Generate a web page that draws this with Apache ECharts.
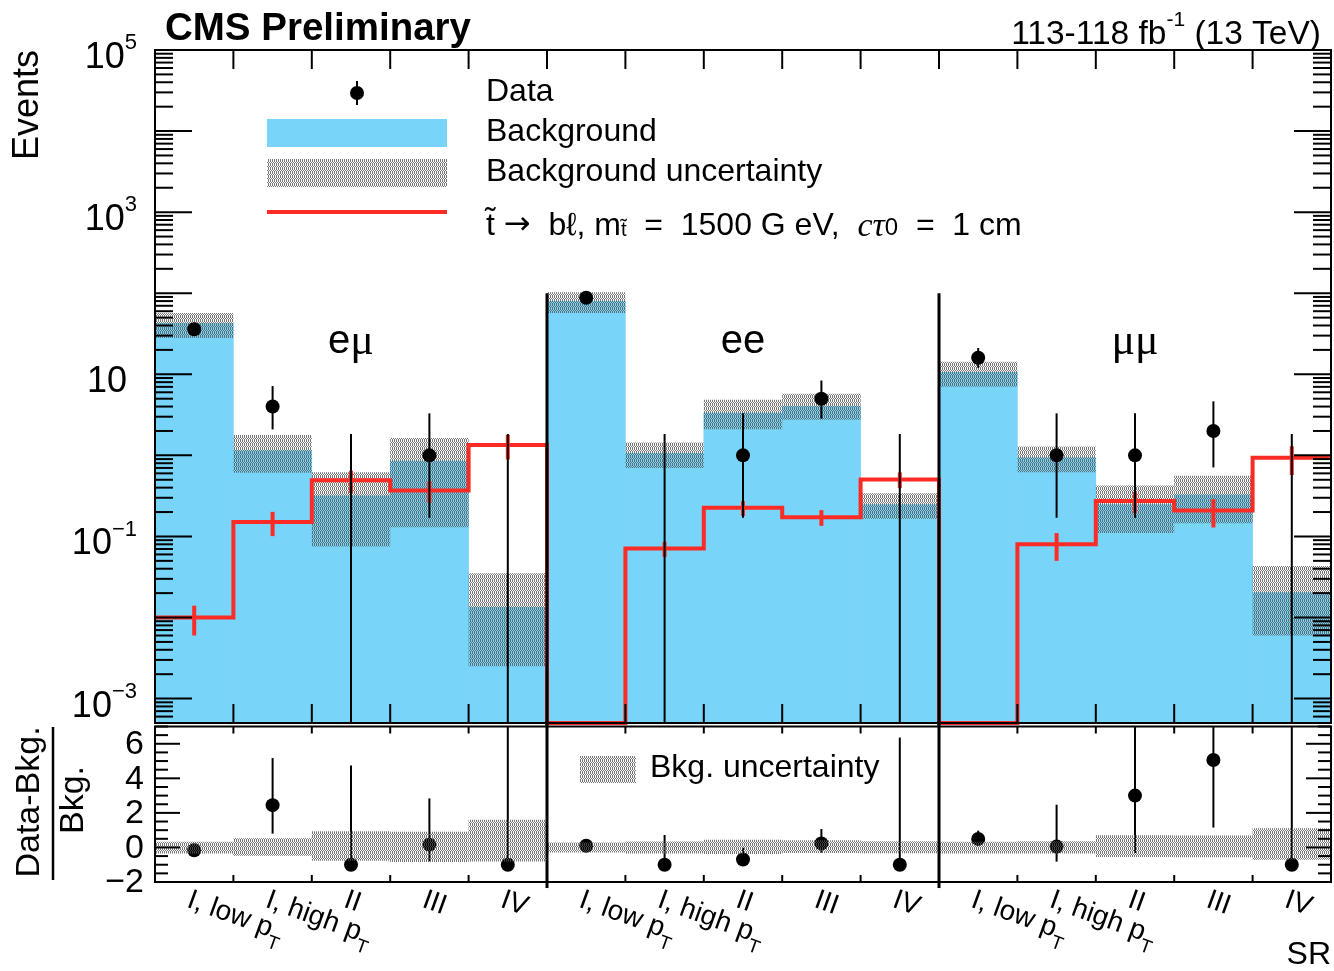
<!DOCTYPE html>
<html><head><meta charset="utf-8">
<script src="https://cdn.jsdelivr.net/npm/echarts@6/dist/echarts.min.js"></script>
<style>html,body{margin:0;padding:0;background:#fff}#c{width:1334px;height:971px}</style>
</head><body><div id="c"></div>
<script>
// ---------------- data ----------------
const channels = ['eμ', 'ee', 'μμ'];
const srLabels = [['I, low p', 'T'], ['I, high p', 'T'], ['II', ''], ['III', ''], ['IV', '']];
const dataCounts  = [36, 4, 0, 1, 0,   88, 0, 1, 5, 0,   16, 1, 1, 2, 0];
const dataErrLow  = [5.96, 1.91, 0, 0.83, 0,   9.36, 0, 0.83, 2.16, 0,   3.98, 0.83, 0.83, 1.29, 0];
const dataErrHigh = [7.05, 3.16, 1.84, 2.30, 1.84,   10.4, 1.84, 2.30, 3.38, 1.84,   5.10, 2.30, 2.30, 2.64, 1.84];
const bkg       = [43, 1.16, 0.32, 0.86, 0.0135,   80, 1.07, 3.35, 4.05, 0.25,   10.7, 0.95, 0.25, 0.33, 0.0205];
const bkgUncUp  = [14, 0.62, 0.30, 0.78, 0.0216,   23, 0.37, 1.5, 1.7, 0.09,   3.6, 0.34, 0.175, 0.23, 0.0228];
const bkgUncDown= [15, 0.55, 0.245, 0.73, 0.011,   23, 0.37, 1.25, 1.3, 0.085,   3.7, 0.33, 0.14, 0.185, 0.0145];
const signal    = [0.010, 0.151, 0.495, 0.37, 1.34,   0, 0.071, 0.226, 0.173, 0.505,   0, 0.080, 0.273, 0.209, 0.933];
const signalErr = [0.004, 0.05, 0.15, 0.11, 0.45,   0, 0.015, 0.047, 0.038, 0.11,   0, 0.03, 0.08, 0.08, 0.36];
const channelEdges = [5, 10];
const mainTickValues = [1e-3, 1e-1, 10, 1e3, 1e5];
const mainTickLabels = [['10', '−3'], ['10', '−1'], ['10', ''], ['10', '3'], ['10', '5']];
const ratioTickValues = [-2, 0, 2, 4, 6];
const ratioTickLabels = ['−2', '0', '2', '4', '6'];

// ---------------- styling ----------------
const N = 15, YMIN = 5e-4, YMAX = 1e5, RMIN = -2, RMAX = 7;
const BLUE = '#78d4f8', RED = '#fd2b25';
const F = '"Liberation Sans", Arial, Helvetica, sans-serif';
const FS = '"Liberation Serif", "Times New Roman", serif';

const patCanvas = document.createElement('canvas');
patCanvas.width = 4; patCanvas.height = 4;
const pg = patCanvas.getContext('2d');
pg.fillStyle = 'rgba(85,85,85,0.8)';
[[0,0],[2,0],[0,1],[2,1],[1,2],[3,2],[0,3],[2,3]].forEach(([x, y]) => pg.fillRect(x, y, 1, 1));
const HATCH = { image: patCanvas, repeat: 'repeat' };

const cm = v => Math.min(YMAX, Math.max(YMIN, v));
const cr = v => Math.min(RMAX, Math.max(RMIN, v));
function ln(x1, y1, x2, y2, w, c) {
  return { type: 'line', shape: { x1, y1, x2, y2 }, style: { stroke: c || '#000', lineWidth: w || 2 } };
}
const M = { type: 'custom', coordinateSystem: 'cartesian2d', xAxisIndex: 0, yAxisIndex: 0, silent: true };
const R = { type: 'custom', coordinateSystem: 'cartesian2d', xAxisIndex: 1, yAxisIndex: 1, silent: true };
const binMain = bkg.map((v, i) => [i + 0.5, 1]);
const binRat = bkg.map((v, i) => [i + 0.5, 0]);

const series = [
  // background histogram
  Object.assign({}, M, { z: 2, data: binMain, renderItem: (p, api) => {
    const i = p.dataIndex;
    const a = api.coord([i, YMIN]), b = api.coord([i + 1, cm(bkg[i])]);
    return { type: 'rect', shape: { x: a[0] - 0.3, y: b[1], width: b[0] - a[0] + 0.6, height: a[1] - b[1] }, style: { fill: BLUE } };
  }}),
  // background uncertainty band
  Object.assign({}, M, { z: 3, data: binMain, renderItem: (p, api) => {
    const i = p.dataIndex;
    const a = api.coord([i, cm(bkg[i] + bkgUncUp[i])]), b = api.coord([i + 1, cm(bkg[i] - bkgUncDown[i])]);
    return { type: 'rect', shape: { x: a[0], y: a[1], width: b[0] - a[0], height: b[1] - a[1] }, style: { fill: HATCH } };
  }}),
  // signal step line
  Object.assign({}, M, { z: 4, data: [[0, 1]], renderItem: (p, api) => {
    const pts = [];
    signal.forEach((s, i) => {
      const y = api.coord([i, cm(s)])[1];
      pts.push([api.coord([i, 1])[0], y], [api.coord([i + 1, 1])[0], y]);
    });
    return { type: 'polyline', shape: { points: pts }, style: { stroke: RED, lineWidth: 4, fill: null, lineJoin: 'miter' } };
  }}),
  // signal error bars
  Object.assign({}, M, { z: 5, data: binMain, renderItem: (p, api) => {
    const i = p.dataIndex;
    if (!(signalErr[i] > 0)) return null;
    const x = api.coord([i + 0.5, 1])[0];
    const y1 = api.coord([0, cm(signal[i] - signalErr[i])])[1], y2 = api.coord([0, cm(signal[i] + signalErr[i])])[1];
    return ln(x, y1, x, y2, 4, RED);
  }}),
  // data points (main)
  Object.assign({}, M, { z: 6, data: binMain, renderItem: (p, api) => {
    const i = p.dataIndex, n = dataCounts[i];
    const x = api.coord([i + 0.5, 1])[0];
    const yl = api.coord([0, cm(n - dataErrLow[i])])[1], yh = api.coord([0, cm(n + dataErrHigh[i])])[1];
    const ch = [ln(x, yl, x, yh, 2)];
    if (n > 0) ch.push({ type: 'circle', shape: { cx: x, cy: api.coord([0, n])[1], r: 7 }, style: { fill: '#000' } });
    return { type: 'group', children: ch };
  }}),
  // channel labels
  Object.assign({}, M, { z: 7, data: channels.map((c, k) => [2.5 + 5 * k, 25]), renderItem: (p, api) => {
    const c = channels[p.dataIndex];
    const pt = api.coord([2.5 + 5 * p.dataIndex, 25]);
    const txt = c.split('').map(ch => ch === 'μ' ? '{g|μ}' : '{s|' + ch + '}').join('');
    return { type: 'text', x: pt[0], y: pt[1], style: { text: txt, align: 'center', verticalAlign: 'middle',
      rich: { s: { fontSize: 40, fontFamily: F, fill: '#000' }, g: { fontSize: 44, fontFamily: FS, fill: '#000' } } } };
  }}),
  // channel separators (main)
  Object.assign({}, M, { z: 8, data: channelEdges.map(e => [e, 1]), renderItem: (p, api) => {
    const e = channelEdges[p.dataIndex];
    const a = api.coord([e, 100]), b = api.coord([e, YMIN]);
    return ln(a[0], a[1], b[0], b[1] + 2, 3);
  }}),
  // main frame + ticks
  Object.assign({}, M, { z: 9, data: [[0, 1]], renderItem: (p, api) => {
    const tl = api.coord([0, YMAX]), br = api.coord([N, YMIN]);
    const x0 = tl[0], y0 = tl[1], x1 = br[0], y1 = br[1];
    const ch = [{ type: 'rect', shape: { x: x0, y: y0, width: x1 - x0, height: y1 - y0 }, style: { fill: null, stroke: '#000', lineWidth: 2 } }];
    for (let e = 1; e < N; e++) {
      const x = api.coord([e, 1])[0];
      ch.push(ln(x, y0, x, y0 + 19, 2), ln(x, y1, x, y1 - 19, 2));
    }
    for (let k = -4; k <= 4; k++) for (let m = 1; m <= 9; m++) {
      const v = m * Math.pow(10, k);
      if (v < YMIN || v > YMAX) continue;
      const y = api.coord([0, v])[1], L = m === 1 ? 37 : 18;
      ch.push(ln(x0, y, x0 + L, y, 2), ln(x1, y, x1 - L, y, 2));
    }
    return { type: 'group', children: ch };
  }}),
  // main y tick labels
  Object.assign({}, M, { z: 9, data: mainTickValues.map(v => [0, v]), renderItem: (p, api) => {
    const i = p.dataIndex, pt = api.coord([0, mainTickValues[i]]);
    const [b, e] = mainTickLabels[i];
    return { type: 'text', x: e ? pt[0] - 18 : pt[0] - 28, y: pt[1] + 4, style: {
      text: e ? '{b|' + b + '}{s|' + e + '}' : '{b|' + b + '}', align: 'right', verticalAlign: 'middle',
      rich: { b: { fontSize: 36, fontFamily: F, lineHeight: 44, verticalAlign: 'bottom', fill: '#000' },
              s: { fontSize: 22, fontFamily: F, lineHeight: 14, verticalAlign: 'top', fill: '#000' } } } };
  }}),

  // ratio data points (drawn below the band)
  Object.assign({}, R, { z: 2, data: binRat, renderItem: (p, api) => {
    const i = p.dataIndex, n = dataCounts[i], b = bkg[i];
    const r = (n - b) / b;
    const x = api.coord([i + 0.5, 0])[0];
    const yl = api.coord([0, cr((n - dataErrLow[i] - b) / b)])[1], yh = api.coord([0, cr((n + dataErrHigh[i] - b) / b)])[1];
    const ch = [ln(x, yl, x, yh, 2)];
    if (r >= RMIN && r <= RMAX) ch.push({ type: 'circle', shape: { cx: x, cy: api.coord([0, r])[1], r: 7 }, style: { fill: '#000' } });
    return { type: 'group', children: ch };
  }}),
  // ratio uncertainty band
  Object.assign({}, R, { z: 3, data: binRat, renderItem: (p, api) => {
    const i = p.dataIndex;
    const a = api.coord([i, cr(bkgUncUp[i] / bkg[i])]), b = api.coord([i + 1, cr(-bkgUncDown[i] / bkg[i])]);
    return { type: 'rect', shape: { x: a[0], y: a[1], width: b[0] - a[0], height: b[1] - a[1] }, style: { fill: HATCH } };
  }}),
  // channel separators (ratio)
  Object.assign({}, R, { z: 8, data: channelEdges.map(e => [e, 0]), renderItem: (p, api) => {
    const e = channelEdges[p.dataIndex];
    const a = api.coord([e, RMAX]), b = api.coord([e, -2.35]);
    return ln(a[0], a[1] - 5, b[0], b[1], 3);
  }}),
  // ratio frame + ticks
  Object.assign({}, R, { z: 9, data: [[0, 0]], renderItem: (p, api) => {
    const tl = api.coord([0, RMAX]), br = api.coord([N, RMIN]);
    const x0 = tl[0], y0 = tl[1], x1 = br[0], y1 = br[1];
    const ch = [{ type: 'rect', shape: { x: x0, y: y0, width: x1 - x0, height: y1 - y0 }, style: { fill: null, stroke: '#000', lineWidth: 2 } }];
    for (let e = 1; e < N; e++) {
      const x = api.coord([e, 0])[0];
      ch.push(ln(x, y0, x, y0 + 7, 2), ln(x, y1, x, y1 - 7, 2));
    }
    for (let t = RMIN * 2; t <= RMAX * 2; t++) {
      const v = t / 2, y = api.coord([0, v])[1];
      const L = (t % 4 === 0) ? 25 : 13;
      ch.push(ln(x0, y, x0 + L, y, 2), ln(x1, y, x1 - L, y, 2));
    }
    return { type: 'group', children: ch };
  }}),
  // ratio y tick labels
  Object.assign({}, R, { z: 9, data: ratioTickValues.map(v => [0, v]), renderItem: (p, api) => {
    const i = p.dataIndex, pt = api.coord([0, ratioTickValues[i]]);
    return { type: 'text', x: pt[0] - 11, y: pt[1] + 1, style: { text: ratioTickLabels[i], align: 'right', verticalAlign: 'middle', fontSize: 34, fontFamily: F, fill: '#000' } };
  }}),
  // x labels (SR names, repeated per channel)
  Object.assign({}, R, { z: 9, data: binRat, renderItem: (p, api) => {
    const i = p.dataIndex;
    const [t, sub] = srLabels[i % 5];
    const pt = api.coord([i + 0.5, RMIN]);
    return { type: 'text', x: pt[0] - 1, y: pt[1] + 4, rotation: -20 * Math.PI / 180, style: {
      text: sub ? '{b|' + t + '}{s|' + sub + '}' : '{b|' + t + '}', x: 0, y: 0, align: 'left', verticalAlign: 'top',
      rich: { b: { fontSize: 28, fontFamily: F, lineHeight: 30, verticalAlign: 'top', fill: '#000' },
              s: { fontSize: 19, fontFamily: F, lineHeight: 54, verticalAlign: 'middle', fill: '#000' } } } };
  }})
];

const T = (x, y, text, extra) => ({ type: 'text', x, y, silent: true, style: Object.assign({ text, fontSize: 32, fontFamily: F, fill: '#000', align: 'left', verticalAlign: 'middle' }, extra || {}) });

const graphic = [
  T(165, 29, 'CMS Preliminary', { fontSize: 38.5, fontWeight: 'bold' }),
  T(1321, 31, '{n|113-118 fb}{s|-1}{n| (13 TeV)}', { align: 'right',
    rich: { n: { fontSize: 33.5, fontFamily: F, lineHeight: 42, verticalAlign: 'bottom', fill: '#000' },
            s: { fontSize: 21, fontFamily: F, lineHeight: 14, verticalAlign: 'top', fill: '#000' } } }),
  Object.assign(T(28, 50, 'Events', { align: 'right', fontSize: 36 }), { rotation: Math.PI / 2 }),
  Object.assign(T(30, 802, 'Data-Bkg.', { align: 'center', fontSize: 34 }), { rotation: Math.PI / 2 }),
  Object.assign(T(74, 800, 'Bkg.', { align: 'center', fontSize: 34 }), { rotation: Math.PI / 2 }),
  { type: 'line', silent: true, shape: { x1: 53, y1: 727, x2: 53, y2: 880 }, style: { stroke: '#000', lineWidth: 2.5 } },
  T(1331, 955, 'SR', { align: 'right' }),
  // legend
  { type: 'line', silent: true, shape: { x1: 357, y1: 81, x2: 357, y2: 105 }, style: { stroke: '#000', lineWidth: 2 } },
  { type: 'circle', silent: true, shape: { cx: 357, cy: 93, r: 7 }, style: { fill: '#000' } },
  { type: 'rect', silent: true, shape: { x: 267, y: 119, width: 180, height: 28 }, style: { fill: BLUE } },
  { type: 'rect', silent: true, shape: { x: 267, y: 159, width: 180, height: 28 }, style: { fill: HATCH } },
  { type: 'line', silent: true, shape: { x1: 267, y1: 212, x2: 447, y2: 212 }, style: { stroke: RED, lineWidth: 4 } },
  T(486, 92, 'Data'),
  T(486, 132, 'Background'),
  T(486, 172, 'Background uncertainty'),
  T(486, 225, '{n|t\u0303 }{ar|\u2192}{n|  b\u2113, m}{sub|t\u0303}{n|  =  1500 G eV,  }{it|c\u03c4}{z|0}{n|  =  1 cm}', {
    rich: { n: { fontSize: 32, fontFamily: F, lineHeight: 30, verticalAlign: 'top', fill: '#000' },
            ar: { fontSize: 32, fontFamily: '"DejaVu Sans", sans-serif', lineHeight: 30, verticalAlign: 'top', fill: '#000' },
            sub: { fontSize: 20, fontFamily: F, lineHeight: 30, verticalAlign: 'bottom', fill: '#000' },
            it: { fontSize: 34, fontFamily: FS, fontStyle: 'italic', lineHeight: 30, verticalAlign: 'top', fill: '#000' },
            z: { fontSize: 24, fontFamily: F, lineHeight: 30, verticalAlign: 'bottom', fill: '#000' } } }),
  { type: 'rect', silent: true, shape: { x: 580, y: 756, width: 56, height: 27 }, style: { fill: HATCH } },
  T(650, 768, 'Bkg. uncertainty')
];

const option = {
  animation: false,
  backgroundColor: '#fff',
  grid: [
    { left: 155, top: 50, width: 1176, height: 673, show: false },
    { left: 155, top: 726.5, width: 1176, height: 155.5, show: false }
  ],
  xAxis: [
    { type: 'value', gridIndex: 0, min: 0, max: N, show: false },
    { type: 'value', gridIndex: 1, min: 0, max: N, show: false }
  ],
  yAxis: [
    { type: 'log', logBase: 10, gridIndex: 0, min: YMIN, max: YMAX, show: false },
    { type: 'value', gridIndex: 1, min: RMIN, max: RMAX, show: false }
  ],
  series,
  graphic
};
const chart = echarts.init(document.getElementById('c'), null, { renderer: 'canvas' });
chart.setOption(option);
</script>
</body></html>
